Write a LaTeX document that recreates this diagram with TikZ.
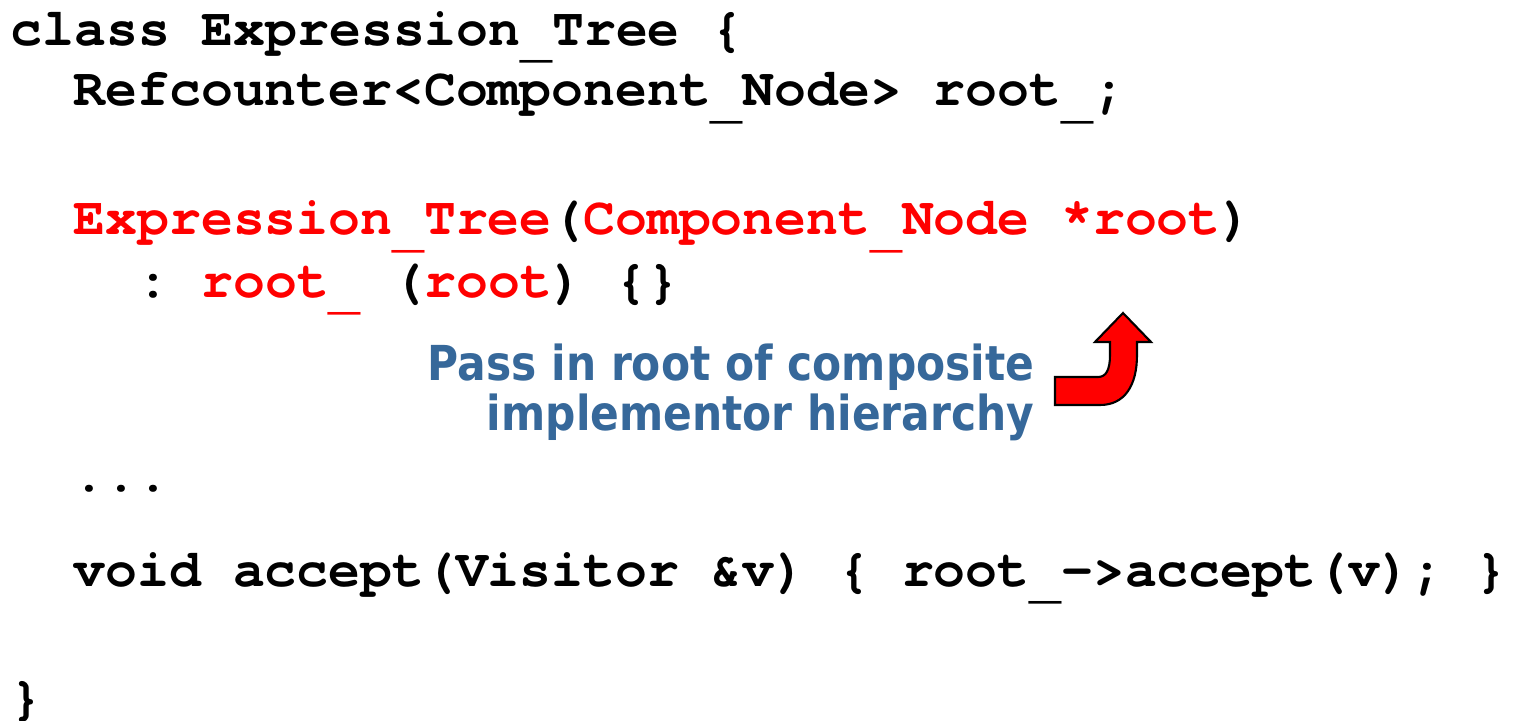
\documentclass[tikz,border=0pt]{standalone}
\usepackage{fontspec}
\setmonofont{texgyrecursor}[Extension=.otf,UprightFont=*-regular,BoldFont=*-bold]
\newfontfamily\notefont{DejaVu Sans}[FakeStretch=0.88]
\definecolor{noteblue}{RGB}{54,104,154}
\newcommand\rd[1]{\textcolor{red}{#1}}
\newcommand\us{\raisebox{-3.2pt}{\_}}

\begin{document}
\begin{tikzpicture}[x=0.01cm,y=-0.01cm,
  code/.style={anchor=base west,inner sep=0pt,font=\ttfamily\bfseries\fontsize{15.1}{15}\selectfont\frenchspacing},
  note/.style={anchor=base east,inner sep=0pt,align=right,text=noteblue,font=\notefont\bfseries\fontsize{13.7}{14.2}\selectfont}]
\useasboundingbox (0,0) rectangle (1514,721);

\node[code] (cls) at (10,45) {class Expression\us Tree \{};
\node[code] (member) at (73,106) {Refcounter<Component\us Node> root\us;};
\node[code] (ctor) at (73,235) {\rd{Expression\us Tree}(\rd{Component\us Node *root})};
\node[code] (init) at (137,297) {: \rd{root\us} (\rd{root}) \{\}};
\node[code] (dots) at (73,491) {...};
\node[code] (accept) at (73,586) {void accept(Visitor \&v) \{ root\us->accept(v); \}};
\node[code] (close) at (10,714) {\}};

\node[note] (note) at (1035,430) {Pass in root of composite\\implementor hierarchy};

% curved arrow pointing up to the constructor argument
\draw[fill=red,line width=0.6pt,line join=miter] (1055,377) -- (1098,377)
  .. controls (1106,377) and (1110,370) .. (1110,355) -- (1110,342) -- (1095,342)
  -- (1123,313) -- (1151,342) -- (1137,342) -- (1137,355)
  .. controls (1137,385) and (1125,405) .. (1100,405) -- (1055,405) -- cycle;
\end{tikzpicture}
\end{document}
